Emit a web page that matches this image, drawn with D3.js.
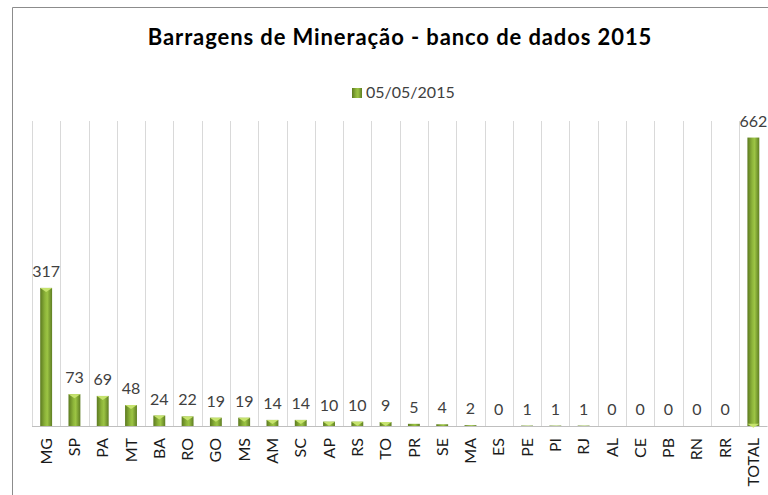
<!DOCTYPE html>
<html>
<head>
<meta charset="utf-8">
<script src="https://cdn.jsdelivr.net/npm/d3@7"></script>
<style>
  body { margin: 0; background: #fff; }
  text { font-family: Lato, "Noto Sans", sans-serif; }
</style>
</head>
<body>
<script>
// data
const states = ["MG", "SP", "PA", "MT", "BA", "RO", "GO", "MS", "AM", "SC", "AP", "RS", "TO",
    "PR", "SE", "MA", "ES", "PE", "PI", "RJ", "AL", "CE", "PB", "RN", "RR", "TOTAL"];
const counts = [317, 73, 69, 48, 24, 22, 19, 19, 14, 14, 10, 10, 9, 5, 4, 2, 0, 1, 1, 1, 0, 0, 0, 0, 0, 662];
const seriesName = "05/05/2015";
const title = "Barragens de Mineração - banco de dados 2015";

const width = 768, height = 495;

let svg = d3.select("body").append("svg")
    .attr("width", width)
    .attr("height", height);

let defs = svg.append("defs");
let grad = defs.append("linearGradient").attr("id", "barGrad")
    .attr("x1", "0%").attr("x2", "100%").attr("y1", "0%").attr("y2", "0%");
grad.append("stop").attr("offset", "0%").attr("stop-color", "#5c7a20");
grad.append("stop").attr("offset", "40%").attr("stop-color", "#8db43a");
grad.append("stop").attr("offset", "60%").attr("stop-color", "#9cc444");
grad.append("stop").attr("offset", "100%").attr("stop-color", "#5e7d22");

// chart frame
svg.append("path")
    .attr("d", `M12.5,${height} L12.5,7.5 L${width},7.5`)
    .attr("fill", "none")
    .attr("stroke", "#8c8c8c")
    .attr("stroke-width", 1);

let x = d3.scaleBand()
    .domain(states)
    .range([32, 767.5]);

let y = d3.scaleLinear()
    .domain([0, 700])
    .range([426, 121]);

// vertical gridlines at category boundaries
let gridX = states.map(s => x(s)).concat([x.range()[1]]);
svg.selectAll(".grid")
    .data(gridX)
    .enter().append("line")
    .attr("class", "grid")
    .attr("x1", d => Math.round(d) + 0.5)
    .attr("x2", d => Math.round(d) + 0.5)
    .attr("y1", y(700))
    .attr("y2", y(0))
    .attr("stroke", "#d9d9d9");

// baseline
svg.append("line")
    .attr("x1", x.range()[0])
    .attr("x2", x.range()[1])
    .attr("y1", Math.round(y(0)) + 0.5)
    .attr("y2", Math.round(y(0)) + 0.5)
    .attr("stroke", "#bfbfbf");

let barW = x.bandwidth() * 0.42;
let bars = svg.selectAll(".bar")
    .data(states)
    .enter().append("g")
    .attr("class", "bar");

bars.append("rect")
    .attr("x", d => x(d) + (x.bandwidth() - barW) / 2)
    .attr("width", barW)
    .attr("y", (d, i) => y(counts[i]))
    .attr("height", (d, i) => y(0) - y(counts[i]))
    .attr("fill", "url(#barGrad)");

// lighter bevel on top of each bar
bars.filter((d, i) => y(0) - y(counts[i]) > 3)
    .append("path")
    .attr("d", (d, i) => {
        let x0 = x(d) + (x.bandwidth() - barW) / 2;
        let t = y(counts[i]);
        return `M${x0},${t} L${x0 + barW},${t} L${x0 + barW / 2},${t + 4} Z`;
    })
    .attr("fill", "#c6e36e");

// value labels
svg.selectAll(".val")
    .data(states)
    .enter().append("text")
    .attr("class", "val")
    .attr("x", d => x(d) + x.bandwidth() / 2)
    .attr("y", (d, i) => y(counts[i]) - 11)
    .attr("text-anchor", "middle")
    .attr("font-size", 16)
    .attr("fill", "#404040")
    .text((d, i) => counts[i]);

// category labels, rotated
svg.selectAll(".cat")
    .data(states)
    .enter().append("text")
    .attr("class", "cat")
    .attr("transform", d => `translate(${x(d) + x.bandwidth() / 2},438) rotate(-90)`)
    .attr("text-anchor", "end")
    .attr("dy", "0.35em")
    .attr("font-size", 16)
    .attr("fill", "#1a1a1a")
    .text(d => d);

// title
svg.append("text")
    .attr("x", 400)
    .attr("y", 45)
    .attr("text-anchor", "middle")
    .attr("font-size", 22)
    .attr("font-weight", "bold")
    .attr("letter-spacing", 0.9)
    .attr("fill", "#000")
    .text(title);

// legend
svg.append("rect")
    .attr("x", 352)
    .attr("y", 88)
    .attr("width", 10)
    .attr("height", 10)
    .attr("fill", "url(#barGrad)");
svg.append("text")
    .attr("x", 366)
    .attr("y", 98)
    .attr("font-size", 16)
    .attr("fill", "#404040")
    .text(seriesName);
</script>
</body>
</html>
